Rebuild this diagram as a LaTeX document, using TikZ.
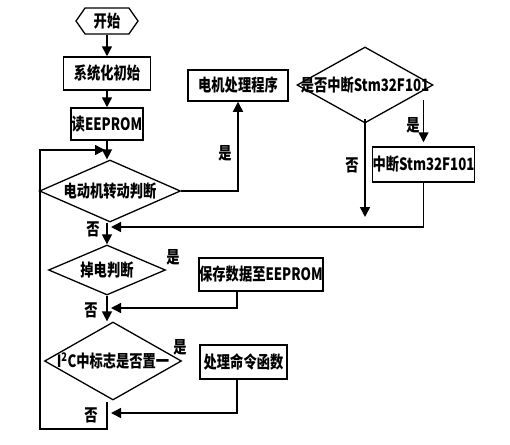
\documentclass[tikz,border=0pt]{standalone}
\usepackage{fontspec}
\setmainfont{Noto Sans CJK SC}
\usetikzlibrary{shapes.geometric,shapes.symbols,arrows.meta,positioning}
\newcommand{\sq}[1]{\scalebox{0.78}[1]{#1}}

\begin{document}
\begin{tikzpicture}[x=1pt, y=-1pt, font=\bfseries\fontsize{17}{19}\selectfont,
  block/.style={draw, line width=1.5pt, inner sep=0pt},
  test/.style={draw, diamond, line width=1.3pt, inner sep=0pt},
  flow/.style={line width=1.5pt, -{Triangle[length=10pt,width=10pt]}},
  lbl/.style={inner sep=0pt}]

  \useasboundingbox (0,0) rectangle (510,444);

  % Main column
  \node[draw, line width=1.3pt, signal, signal to=east and west, signal pointer angle=110,
        minimum width=62pt, minimum height=26pt, inner sep=0pt] (start) at (107,21) {\sq{开始}};
  \node[block, minimum width=87pt, minimum height=33pt] (init) at (107,73.5) {\sq{系统化初始}};
  \node[block, minimum width=72pt, minimum height=32pt] (read) at (107,124) {\sq{读EEPROM}};
  \node[test, minimum width=141pt, minimum height=62pt] (d1) at (110,191) {\makebox[0pt]{\sq{电动机转动判断}}};
  \node[test, minimum width=117pt, minimum height=50pt] (d3) at (107,270) {\makebox[0pt]{\sq{掉电判断}}};
  \node[test, minimum width=137pt, minimum height=78pt] (d4) at (113,361) {\makebox[0pt]{\sq{I\textsuperscript{2}C中标志是否置一}}};

  % Right side
  \node[block, minimum width=100pt, minimum height=31pt] (motor) at (238,85.5) {\sq{电机处理程序}};
  \node[test, minimum width=136pt, minimum height=76pt] (d2) at (365,85) {\makebox[0pt]{\sq{是否中断Stm32F101}}};
  \node[block, minimum width=91pt, minimum height=35pt] (isr) at (423.5,164.5) {\sq{中断Stm32F101}};
  \node[block, minimum width=114pt, minimum height=33pt] (save) at (261,274.5) {\sq{保存数据至EEPROM}};
  \node[block, minimum width=87pt, minimum height=34pt] (cmd) at (243.5,362) {\sq{处理命令函数}};

  % Points on the lines
  \coordinate (m1) at (107,227);
  \coordinate (m2) at (107,308);
  \coordinate (m3) at (107,413);
  \coordinate (lp0) at (107,402);
  \coordinate (lp1) at (107,429);
  \coordinate (back) at (40,429);
  \coordinate (join) at (107,150);
  \coordinate (no2) at (365,217);
  \coordinate (yes2) at (423.5,100);

  % Labels
  \node[lbl] (y1) at (225,153) {\sq{是}};
  \node[lbl] (n2) at (352,165) {\sq{否}};
  \node[lbl] (y2) at (413,125) {\sq{是}};
  \node[lbl] (n1) at (93,229) {\sq{否}};
  \node[lbl] (y3) at (173,257) {\sq{是}};
  \node[lbl] (n3) at (91,310) {\sq{否}};
  \node[lbl] (y4) at (180,347) {\sq{是}};
  \node[lbl] (n4) at (91,415) {\sq{否}};

  % Vertical arrows
  \draw[flow] (start.south) -- (init.north);
  \draw[flow] (init.south) -- (read.north);
  \draw[flow] (read.south) -- (read.south |- d1.north);
  \draw[flow] (d1.south -| d3.north) -- (d3.north);
  \draw[flow] (d3.south) -- (d3.south |- d4.north);
  \draw[flow] ([yshift=5pt]d2.south) -- (no2);
  \draw[flow, shorten >=4pt] (yes2) -- (isr.north);

  % Return lines
  \draw[flow] (d1.east) -| (motor.south);
  \draw[flow, shorten >=4pt] (isr.south) |- (m1);
  \draw[flow, shorten >=4pt] ([xshift=-24pt]save.south) |- (m2);
  \draw[flow, shorten >=4pt] ([xshift=-6.5pt]cmd.south) |- (m3);
  \draw[flow, shorten >=2pt] (lp0) -- (lp1) -- (back) |- (join);

\end{tikzpicture}
\end{document}
